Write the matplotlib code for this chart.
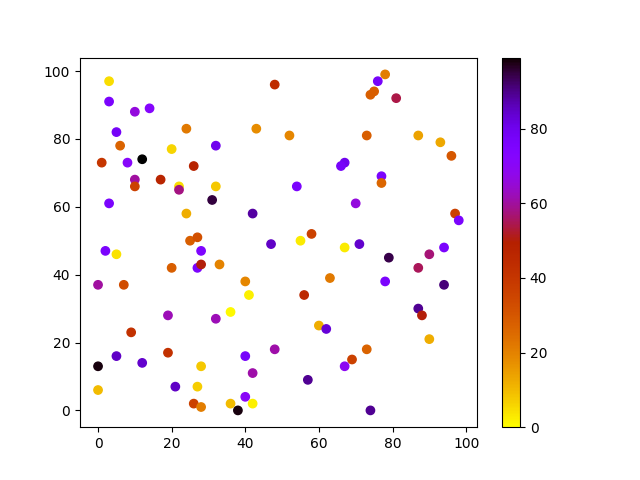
import matplotlib
matplotlib.use("Agg")
import matplotlib.pyplot as plt

x = [3, 3, 10, 14, 5, 24, 43, 6, 20, 32, 1, 8, 12, 26, 48, 10, 17, 22, 22, 10,
     32, 3, 31, 24, 42, 25, 27, 47, 2, 5, 28, 27, 28, 20, 33, 0, 7, 40, 41, 19,
     32, 36, 9, 5, 0, 12, 19, 28, 40, 48, 42, 0, 21, 27, 40, 26, 28, 36, 42, 38,
     78, 76, 75, 74, 81, 52, 73, 87, 93, 96, 67, 66, 77, 77, 54, 70, 97, 98, 58, 55,
     67, 71, 79, 90, 94, 87, 63, 78, 94, 56, 87, 88, 60, 62, 90, 73, 69, 67, 57, 74]
y = [97, 91, 88, 89, 82, 83, 83, 78, 77, 78, 73, 73, 74, 72, 96, 68, 68, 66, 65, 66,
     66, 61, 62, 58, 58, 50, 51, 49, 47, 46, 47, 42, 43, 42, 43, 37, 37, 38, 34, 28,
     27, 29, 23, 16, 13, 14, 17, 13, 16, 18, 11, 6, 7, 7, 4, 2, 1, 2, 2, 0,
     99, 97, 94, 93, 92, 81, 81, 81, 79, 75, 73, 72, 69, 67, 66, 61, 58, 56, 52, 50,
     48, 49, 45, 46, 48, 42, 39, 38, 37, 34, 30, 28, 25, 24, 21, 18, 15, 13, 9, 0]
c = [5, 76, 66, 72, 78, 22, 18, 27, 6, 80, 40, 71, 99, 48, 44, 60, 47, 5, 58, 36,
     8, 76, 95, 12, 88, 28, 32, 85, 76, 4, 75, 76, 50, 28, 20, 60, 33, 19, 2, 62,
     62, 1, 42, 85, 98, 84, 42, 8, 77, 61, 61, 10, 85, 7, 70, 36, 21, 10, 2, 98,
     21, 77, 28, 28, 54, 19, 28, 14, 13, 30, 80, 77, 76, 26, 76, 66, 36, 76, 36, 3,
     3, 84, 94, 57, 76, 55, 22, 76, 91, 45, 89, 50, 12, 83, 12, 27, 36, 69, 89, 89]

fig, ax = plt.subplots(figsize=(6.4, 4.8), dpi=100)
sc = ax.scatter(x, y, c=c, cmap="gnuplot_r", vmin=0, vmax=99)
fig.colorbar(sc, ax=ax)
fig.savefig("out.png")
